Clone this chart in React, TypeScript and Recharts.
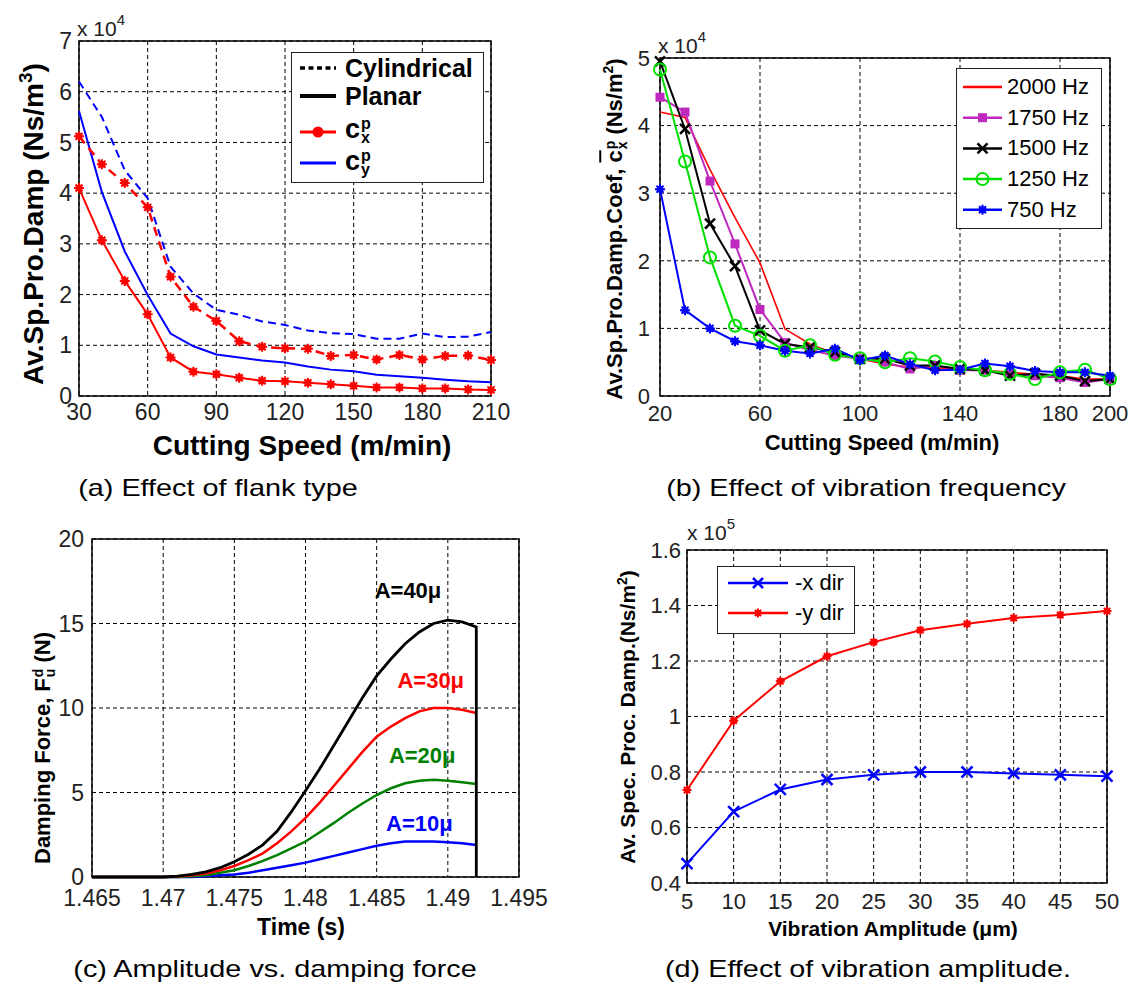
import React from 'react';
import { LineChart, Line, XAxis, YAxis, CartesianGrid, ReferenceArea, ReferenceDot } from 'recharts';

const FONT = "Arial, 'Liberation Sans', Helvetica, sans-serif";
const TICK = '#222';

// (a) effect of flank type, values x 10^4
const speedA = [30, 40, 50, 60, 70, 80, 90, 100, 110, 120, 130, 140, 150, 160, 170, 180, 190, 200, 210];
const cyCyl = [6.2, 5.5, 4.45, 3.9, 2.55, 2.02, 1.7, 1.6, 1.47, 1.4, 1.29, 1.24, 1.22, 1.13, 1.13, 1.23, 1.16, 1.17, 1.26];
const cxCyl = [5.12, 4.57, 4.2, 3.72, 2.35, 1.76, 1.48, 1.08, 0.97, 0.94, 0.93, 0.79, 0.81, 0.72, 0.81, 0.72, 0.79, 0.8, 0.71];
const cyPlanar = [5.62, 4.02, 2.85, 1.99, 1.23, 0.98, 0.82, 0.76, 0.7, 0.66, 0.58, 0.52, 0.49, 0.42, 0.39, 0.36, 0.32, 0.29, 0.27];
const cxPlanar = [4.1, 3.07, 2.27, 1.61, 0.76, 0.48, 0.43, 0.36, 0.3, 0.29, 0.26, 0.23, 0.2, 0.17, 0.17, 0.15, 0.15, 0.13, 0.12];
const ticksAx = [30, 60, 90, 120, 150, 180, 210];
const ticksAy = [0, 1, 2, 3, 4, 5, 6, 7];

// (b) effect of vibration frequency, values x 10^4
const speedB = [20, 30, 40, 50, 60, 70, 80, 90, 100, 110, 120, 130, 140, 150, 160, 170, 180, 190, 200];
const f2000 = [4.2, 4.12, 3.35, 2.64, 1.97, 0.99, 0.77, 0.62, 0.55, 0.47, 0.43, 0.42, 0.4, 0.38, 0.35, 0.32, 0.3, 0.25, 0.25];
const f1750 = [4.42, 4.2, 3.18, 2.25, 1.28, 0.79, 0.68, 0.6, 0.55, 0.5, 0.4, 0.45, 0.38, 0.38, 0.32, 0.3, 0.27, 0.2, 0.25];
const f1500 = [4.95, 3.95, 2.55, 1.92, 0.97, 0.77, 0.72, 0.65, 0.55, 0.55, 0.45, 0.45, 0.4, 0.38, 0.3, 0.33, 0.3, 0.22, 0.25];
const f1250 = [4.83, 3.47, 2.05, 1.04, 0.89, 0.67, 0.75, 0.61, 0.56, 0.5, 0.56, 0.51, 0.43, 0.38, 0.33, 0.25, 0.35, 0.39, 0.25];
const f750 = [3.06, 1.27, 1.0, 0.81, 0.75, 0.67, 0.63, 0.7, 0.53, 0.6, 0.47, 0.38, 0.39, 0.48, 0.44, 0.37, 0.35, 0.35, 0.3];
const ticksBx = [20, 60, 100, 140, 180, 200];
const ticksBy = [0, 1, 2, 3, 4, 5];

// (c) amplitude vs damping force
const timeC = [1.465, 1.466, 1.467, 1.468, 1.469, 1.47, 1.471, 1.472, 1.473, 1.474, 1.475, 1.476, 1.477, 1.478,
  1.479, 1.48, 1.481, 1.482, 1.483, 1.484, 1.485, 1.486, 1.487, 1.488, 1.489, 1.49, 1.491, 1.492];
const amp40 = [0, 0, 0, 0, 0, 0, 0.05, 0.15, 0.3, 0.55, 0.9, 1.35, 1.9, 2.7, 3.85, 5.1, 6.4, 7.8, 9.2, 10.6, 11.9, 12.9, 13.8, 14.5, 15.0, 15.2, 15.1, 14.8];
const amp30 = [0, 0, 0, 0, 0, 0, 0.03, 0.1, 0.2, 0.4, 0.65, 1.0, 1.4, 2.0, 2.7, 3.5, 4.4, 5.4, 6.4, 7.4, 8.3, 8.9, 9.4, 9.8, 10.0, 10.0, 9.9, 9.7];
const amp20 = [0, 0, 0, 0, 0, 0, 0, 0.05, 0.1, 0.25, 0.4, 0.65, 0.95, 1.3, 1.7, 2.1, 2.65, 3.2, 3.8, 4.35, 4.85, 5.25, 5.55, 5.7, 5.75, 5.7, 5.6, 5.5];
const amp10 = [0, 0, 0, 0, 0, 0, 0, 0, 0.05, 0.1, 0.15, 0.25, 0.4, 0.55, 0.7, 0.85, 1.05, 1.25, 1.45, 1.65, 1.85, 2.0, 2.1, 2.1, 2.1, 2.05, 2.0, 1.9];
const ticksCx = [1.465, 1.47, 1.475, 1.48, 1.485, 1.49, 1.495];
const ticksCy = [0, 5, 10, 15, 20];
const labelsC = [
  { t: 1.4872, v: 17.0, text: 'A=40\u03bc', color: '#000' },
  { t: 1.4888, v: 11.65, text: 'A=30\u03bc', color: '#ff0000' },
  { t: 1.4882, v: 7.2, text: 'A=20\u03bc', color: '#008000' },
  { t: 1.488, v: 3.2, text: 'A=10\u03bc', color: '#0000ff' },
];

// (d) effect of vibration amplitude, values x 10^5
const ampD = [5, 10, 15, 20, 25, 30, 35, 40, 45, 50];
const xDir = [0.47, 0.657, 0.737, 0.773, 0.79, 0.8, 0.8, 0.795, 0.79, 0.785];
const yDir = [0.735, 0.985, 1.127, 1.217, 1.268, 1.311, 1.334, 1.355, 1.366, 1.38];
const ticksDx = [5, 10, 15, 20, 25, 30, 35, 40, 45, 50];
const ticksDy = [0.4, 0.6, 0.8, 1, 1.2, 1.4, 1.6];

const rowsA = speedA.map((x, i) => ({ x, cyCyl: cyCyl[i], cxCyl: cxCyl[i], cyPlanar: cyPlanar[i], cxPlanar: cxPlanar[i] }));
const rowsB = speedB.map((x, i) => ({ x, f2000: f2000[i], f1750: f1750[i], f1500: f1500[i], f1250: f1250[i], f750: f750[i] }));
const seriesC = (vals: number[]) => timeC.map((t, i) => ({ t, v: vals[i] }));
const c40 = [...seriesC(amp40), { t: timeC[timeC.length - 1], v: 0 }];
const rowsD = ampD.map((x, i) => ({ x, xDir: xDir[i], yDir: yDir[i] }));

// chart box -> margins so that the plot area lands where it should
function frame(L: number, T: number, W: number, H: number, x0: number, x1: number, y0: number, y1: number) {
  return { L, T, W, H, margin: { top: y0 - T, right: L + W - x1, bottom: 0, left: 0 }, yw: x0 - L, xh: T + H - y1 };
}
const fa = frame(0, 0, 560, 470, 79, 491, 41, 396);
const fb = frame(560, 0, 576, 470, 660, 1110, 58, 396);
const fc = frame(0, 480, 560, 480, 92, 519, 539, 877);
const fd = frame(560, 480, 576, 480, 687, 1107, 550, 883);

// markers
const Star = ({ cx, cy, r, color }: any) => (
  <g>
    <circle cx={cx} cy={cy} r={r * 0.7} fill={color} />
    <path
      d={`M${cx - r},${cy}H${cx + r}M${cx},${cy - r}V${cy + r}M${cx - r * 0.7},${cy - r * 0.7}L${cx + r * 0.7},${cy + r * 0.7}M${cx - r * 0.7},${cy + r * 0.7}L${cx + r * 0.7},${cy - r * 0.7}`}
      stroke={color} strokeWidth={2} />
  </g>
);
const XMark = ({ cx, cy, r, color }: any) => (
  <path d={`M${cx - r},${cy - r}L${cx + r},${cy + r}M${cx - r},${cy + r}L${cx + r},${cy - r}`} stroke={color} strokeWidth={2.5} />
);
const Square = ({ cx, cy, r, color }: any) => <rect x={cx - r} y={cy - r} width={r * 2} height={r * 2} fill={color} />;
const Ring = ({ cx, cy, r, color }: any) => <circle cx={cx} cy={cy} r={r} fill="none" stroke={color} strokeWidth={2} />;

const dotOf = (Mark: any, r: number, color: string) => (p: any) =>
  <Mark key={`m-${p.index}`} cx={p.cx} cy={p.cy} r={r} color={color} />;

const tickStyle = (size: number) => ({ fontSize: size, fill: TICK, fontFamily: FONT });

const Txt = ({ x, y, size, bold, color = '#000', rotate, sx, children }: any) => (
  <div
    style={{
      position: 'absolute', left: x, top: y, fontSize: size, fontWeight: bold ? 700 : 400, color,
      whiteSpace: 'nowrap', fontFamily: FONT, lineHeight: 1,
      transform: `translate(-50%,-50%)${rotate ? ' rotate(-90deg)' : ''}${sx ? ` scaleX(${sx})` : ''}`,
    }}
  >
    {children}
  </div>
);

// superscript over subscript, as in c^p_x
const Stack = ({ top, bottom, size }: any) => (
  <span style={{ display: 'inline-flex', flexDirection: 'column', fontSize: size, lineHeight: 1, verticalAlign: 'middle', marginLeft: 1 }}>
    <span style={{ marginBottom: -2 }}>{top}</span>
    <span>{bottom}</span>
  </span>
);

const Sci = ({ x, y, exp }: any) => (
  <div style={{ position: 'absolute', left: x, top: y, fontFamily: FONT, color: TICK, whiteSpace: 'nowrap', lineHeight: 1 }}>
    <span style={{ fontSize: 21 }}>x 10</span>
    <span style={{ fontSize: 15, position: 'relative', top: -11 }}>{exp}</span>
  </div>
);

const Row = ({ y, left, size, bold, children }: any) => (
  <div style={{ position: 'absolute', left, top: y, transform: 'translateY(-50%)', fontSize: size, fontWeight: bold ? 700 : 400, whiteSpace: 'nowrap', lineHeight: 1 }}>
    {children}
  </div>
);

function Box({ f, children }: any) {
  return <div style={{ position: 'absolute', left: f.L, top: f.T }}>{children}</div>;
}

export default function App() {
  const legendB = [
    { name: '2000 Hz', color: '#ff0000', Mark: null },
    { name: '1750 Hz', color: '#bf28bf', Mark: Square, r: 4.5 },
    { name: '1500 Hz', color: '#000', Mark: XMark, r: 5 },
    { name: '1250 Hz', color: '#00e000', Mark: Ring, r: 6 },
    { name: '750 Hz', color: '#0000ff', Mark: Star, r: 5 },
  ];
  return (
    <div style={{ position: 'absolute', left: 0, top: 0, width: 1136, height: 988, background: '#fff', overflow: 'hidden', fontFamily: FONT }}>
      {/* (a) */}
      <Box f={fa}>
        <LineChart width={fa.W} height={fa.H} data={rowsA} margin={fa.margin}>
          <CartesianGrid stroke="#000" strokeDasharray="4 3" />
          <XAxis type="number" dataKey="x" domain={[30, 210]} ticks={ticksAx} interval={0} tickSize={0} tickMargin={8}
            axisLine={false} tickLine={false} height={fa.xh} tick={tickStyle(23)} />
          <YAxis type="number" domain={[0, 7]} ticks={ticksAy} interval={0} tickSize={0} tickMargin={7}
            axisLine={false} tickLine={false} width={fa.yw} tick={tickStyle(23)} />
          <ReferenceArea x1={30} x2={210} y1={0} y2={7} fill="none" stroke="#000" strokeWidth={1.5} />
          <Line dataKey="cyCyl" stroke="#0000ff" strokeWidth={2} strokeDasharray="8 5" dot={false} isAnimationActive={false} />
          <Line dataKey="cyPlanar" stroke="#0000ff" strokeWidth={2} dot={false} isAnimationActive={false} />
          <Line dataKey="cxCyl" stroke="#ff0000" strokeWidth={2.5} strokeDasharray="9 6" dot={dotOf(Star, 5, '#ff0000')} isAnimationActive={false} />
          <Line dataKey="cxPlanar" stroke="#ff0000" strokeWidth={2} dot={dotOf(Star, 5, '#ff0000')} isAnimationActive={false} />
        </LineChart>
      </Box>

      {/* (b) */}
      <Box f={fb}>
        <LineChart width={fb.W} height={fb.H} data={rowsB} margin={fb.margin}>
          <CartesianGrid stroke="#000" strokeDasharray="4 3" />
          <XAxis type="number" dataKey="x" domain={[20, 200]} ticks={ticksBx} interval={0} tickSize={0} tickMargin={9}
            axisLine={false} tickLine={false} height={fb.xh} tick={tickStyle(22)} />
          <YAxis type="number" domain={[0, 5]} ticks={ticksBy} interval={0} tickSize={0} tickMargin={10}
            axisLine={false} tickLine={false} width={fb.yw} tick={tickStyle(22)} />
          <ReferenceArea x1={20} x2={200} y1={0} y2={5} fill="none" stroke="#000" strokeWidth={1.5} />
          <Line dataKey="f2000" stroke="#ff0000" strokeWidth={1.6} dot={false} isAnimationActive={false} />
          <Line dataKey="f1750" stroke="#bf28bf" strokeWidth={2} dot={dotOf(Square, 4.5, '#bf28bf')} isAnimationActive={false} />
          <Line dataKey="f1500" stroke="#000" strokeWidth={2} dot={dotOf(XMark, 5, '#000')} isAnimationActive={false} />
          <Line dataKey="f1250" stroke="#00e000" strokeWidth={2} dot={dotOf(Ring, 6, '#00e000')} isAnimationActive={false} />
          <Line dataKey="f750" stroke="#0000ff" strokeWidth={2} dot={dotOf(Star, 5, '#0000ff')} isAnimationActive={false} />
        </LineChart>
      </Box>

      {/* (c) */}
      <Box f={fc}>
        <LineChart width={fc.W} height={fc.H} margin={fc.margin}>
          <CartesianGrid stroke="#000" strokeDasharray="4 3" />
          <XAxis type="number" dataKey="t" domain={[1.465, 1.495]} ticks={ticksCx} interval={0} tickSize={0} tickMargin={13}
            axisLine={false} tickLine={false} height={fc.xh} tick={tickStyle(23)} tickFormatter={(v: number) => String(v)} />
          <YAxis type="number" domain={[0, 20]} ticks={ticksCy} interval={0} tickSize={0} tickMargin={8}
            axisLine={false} tickLine={false} width={fc.yw} tick={tickStyle(23)} />
          <ReferenceArea x1={1.465} x2={1.495} y1={0} y2={20} fill="none" stroke="#000" strokeWidth={1.5} />
          <Line data={seriesC(amp10)} dataKey="v" stroke="#0000ff" strokeWidth={2.5} dot={false} isAnimationActive={false} />
          <Line data={seriesC(amp20)} dataKey="v" stroke="#008000" strokeWidth={2.5} dot={false} isAnimationActive={false} />
          <Line data={seriesC(amp30)} dataKey="v" stroke="#ff0000" strokeWidth={2.5} dot={false} isAnimationActive={false} />
          <Line data={c40} dataKey="v" stroke="#000" strokeWidth={2.8} dot={false} isAnimationActive={false} />
          {labelsC.map((l) => (
            <ReferenceDot key={l.text} x={l.t} y={l.v} r={0} fill="none" stroke="none"
              label={{ value: l.text, position: 'center', fill: l.color, fontSize: 22, fontWeight: 700, fontFamily: FONT }} />
          ))}
        </LineChart>
      </Box>

      {/* (d) */}
      <Box f={fd}>
        <LineChart width={fd.W} height={fd.H} data={rowsD} margin={fd.margin}>
          <CartesianGrid stroke="#000" strokeDasharray="4 3" />
          <XAxis type="number" dataKey="x" domain={[5, 50]} ticks={ticksDx} interval={0} tickSize={0} tickMargin={10}
            axisLine={false} tickLine={false} height={fd.xh} tick={tickStyle(22)} />
          <YAxis type="number" domain={[0.4, 1.6]} ticks={ticksDy} interval={0} tickSize={0} tickMargin={6}
            axisLine={false} tickLine={false} width={fd.yw} tick={tickStyle(22)} tickFormatter={(v: number) => String(v)} />
          <ReferenceArea x1={5} x2={50} y1={0.4} y2={1.6} fill="none" stroke="#000" strokeWidth={1.5} />
          <Line dataKey="xDir" stroke="#0000ff" strokeWidth={2} dot={dotOf(XMark, 5.5, '#0000ff')} isAnimationActive={false} />
          <Line dataKey="yDir" stroke="#ff0000" strokeWidth={2} dot={dotOf(Star, 4.5, '#ff0000')} isAnimationActive={false} />
        </LineChart>
      </Box>

      {/* multipliers */}
      <Sci x={77} y={18} exp="4" />
      <Sci x={658} y={35} exp="4" />
      <Sci x={687} y={522} exp="5" />

      {/* axis titles */}
      <Txt x={32} y={224} size={28} bold rotate>
        Av.Sp.Pro.Damp (Ns/m<sup style={{ fontSize: 19 }}>3</sup>)
      </Txt>
      <Txt x={302} y={446} size={28} bold>Cutting Speed (m/min)</Txt>
      <Txt x={615} y={229} size={22} bold rotate>
        Av.Sp.Pro.Damp.Coef, <span style={{ textDecoration: 'overline' }}>c</span>
        <Stack top="p" bottom="x" size={14} /> (Ns/m<sup style={{ fontSize: 14 }}>2</sup>)
      </Txt>
      <Txt x={882} y={443} size={22} bold>Cutting Speed (m/min)</Txt>
      <Txt x={44} y={748} size={22} bold rotate>
        Damping Force, F<Stack top="d" bottom="u" size={14} /> (N)
      </Txt>
      <Txt x={301} y={927} size={23} bold>Time (s)</Txt>
      <Txt x={626} y={717} size={21} bold rotate>
        Av. Spec. Proc. Damp.(Ns/m<sup style={{ fontSize: 14 }}>2</sup>)
      </Txt>
      <Txt x={893} y={928} size={21} bold>Vibration Amplitude (&mu;m)</Txt>

      {/* captions */}
      <Txt x={218} y={488} size={24} sx={1.2}>(a) Effect of flank type</Txt>
      <Txt x={866} y={488} size={24} sx={1.2}>(b) Effect of vibration frequency</Txt>
      <Txt x={275} y={969} size={24} sx={1.2}>(c) Amplitude vs. damping force</Txt>
      <Txt x={868} y={969} size={24} sx={1.2}>(d) Effect of vibration amplitude.</Txt>

      {/* legend (a) */}
      <div style={{ position: 'absolute', left: 291, top: 52, width: 193, height: 131, border: '1.5px solid #222', background: '#fff', boxSizing: 'border-box' }}>
        <svg width={190} height={128} style={{ position: 'absolute', left: 0, top: 0 }}>
          <line x1={8} x2={44} y1={15} y2={15} stroke="#000" strokeWidth={3.5} strokeDasharray="5 3.5" />
          <line x1={8} x2={44} y1={43} y2={43} stroke="#000" strokeWidth={4} />
          <line x1={8} x2={44} y1={79} y2={79} stroke="#ff0000" strokeWidth={3} />
          <circle cx={26} cy={79} r={5.5} fill="#ff0000" />
          <line x1={8} x2={44} y1={110} y2={110} stroke="#0000ff" strokeWidth={3} />
        </svg>
        <Row y={15} left={53} size={25} bold>Cylindrical</Row>
        <Row y={43} left={53} size={25} bold>Planar</Row>
        <Row y={78} left={53} size={27} bold>c<Stack top="p" bottom="x" size={16} /></Row>
        <Row y={110} left={53} size={27} bold>c<Stack top="p" bottom="y" size={16} /></Row>
      </div>

      {/* legend (b) */}
      <div style={{ position: 'absolute', left: 956, top: 68, width: 146, height: 161, border: '1.5px solid #222', background: '#fff', boxSizing: 'border-box' }}>
        <svg width={143} height={158} style={{ position: 'absolute', left: 0, top: 0 }}>
          {legendB.map((e, i) => {
            const y = 18 + i * 30.7;
            const M: any = e.Mark;
            return (
              <g key={e.name}>
                <line x1={6} x2={45} y1={y} y2={y} stroke={e.color} strokeWidth={2.5} />
                {M ? <M cx={25.5} cy={y} r={e.r} color={e.color} /> : null}
              </g>
            );
          })}
        </svg>
        {legendB.map((e, i) => (
          <Row key={e.name} y={18 + i * 30.7} left={50} size={22}>{e.name}</Row>
        ))}
      </div>

      {/* legend (d) */}
      <div style={{ position: 'absolute', left: 717, top: 566, width: 138, height: 68, border: '1.5px solid #222', background: '#fff', boxSizing: 'border-box' }}>
        <svg width={135} height={65} style={{ position: 'absolute', left: 0, top: 0 }}>
          <line x1={10} x2={70} y1={16} y2={16} stroke="#0000ff" strokeWidth={2.5} />
          <XMark cx={40} cy={16} r={5} color="#0000ff" />
          <line x1={10} x2={70} y1={46} y2={46} stroke="#ff0000" strokeWidth={2.5} />
          <Star cx={40} cy={46} r={4.5} color="#ff0000" />
        </svg>
        <Row y={16} left={77} size={22}>-x dir</Row>
        <Row y={46} left={77} size={22}>-y dir</Row>
      </div>
    </div>
  );
}
